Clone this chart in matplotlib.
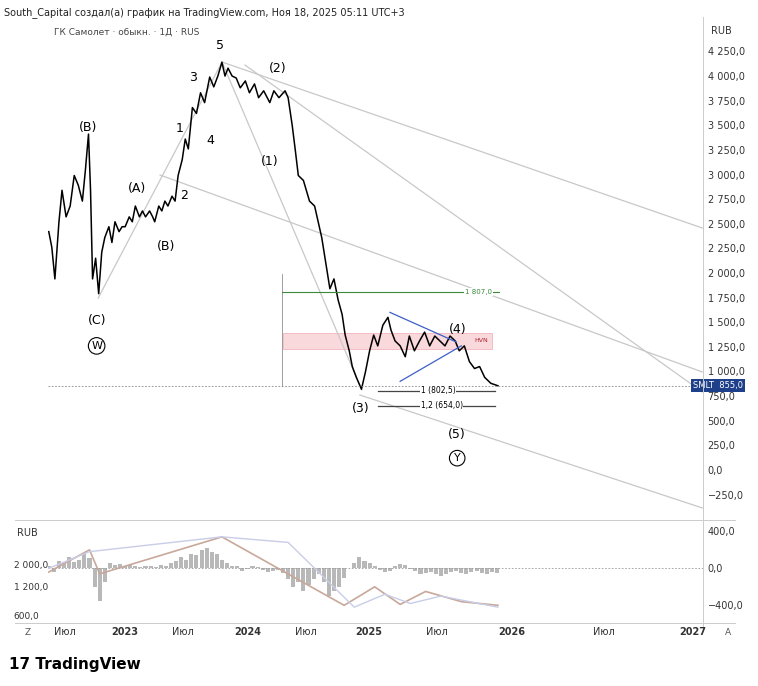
import numpy as np
import matplotlib
matplotlib.use("Agg")
from matplotlib import pyplot as plt
from matplotlib.patches import Rectangle

# months since Jan 2023, price in RUB
months = [-7.5, -7.2, -6.9, -6.5, -6.2, -5.8, -5.4, -5.0, -4.6, -4.2, -3.9, -3.6, -3.4, -3.2, -2.9, -2.6,
          -2.3, -2.0, -1.6, -1.3, -1.0, -0.6, -0.3, 0.0, 0.4, 0.7, 1.0, 1.4, 1.7, 2.0, 2.4, 2.7, 2.9,
          3.3, 3.6, 3.9, 4.2, 4.6, 4.9, 5.2, 5.6, 5.9, 6.2, 6.6, 7.0, 7.4, 7.8, 8.3, 8.7, 9.1, 9.5,
          9.8, 10.1, 10.5, 10.9, 11.3, 11.8, 12.2, 12.7, 13.1, 13.6, 14.2, 14.6, 15.1, 15.7, 16.0,
          16.4, 16.7, 17.0, 17.5, 18.1, 18.6, 19.3, 19.7, 20.1, 20.5, 20.9, 21.3, 21.6, 22.0, 22.3,
          22.7, 23.2, 23.6, 24.0, 24.4, 24.8, 25.3, 25.8, 26.1, 26.5, 27.0, 27.5, 27.9, 28.4, 28.9,
          29.4, 29.9, 30.4, 30.9, 31.4, 31.9, 32.4, 32.8, 33.3, 33.8, 34.3, 34.8, 35.3, 35.9, 36.6]
prices = [2420, 2260, 1940, 2520, 2840, 2570, 2680, 2990, 2890, 2730, 3050, 3410, 2840, 1940, 2150, 1790,
          2210, 2360, 2470, 2310, 2520, 2420, 2470, 2470, 2570, 2520, 2680, 2570, 2630, 2570, 2630, 2570, 2520,
          2680, 2630, 2730, 2680, 2780, 2730, 2990, 3150, 3360, 3260, 3680, 3620, 3830, 3730, 3990, 3890, 4000, 4140,
          4000, 4080, 4000, 3980, 3880, 3950, 3830, 3920, 3780, 3850, 3730, 3850, 3780, 3850, 3780,
          3500, 3250, 2990, 2940, 2730, 2680, 2360, 2100, 1840, 1940, 1730, 1580, 1370, 1210, 1050,
          940, 820, 1000, 1210, 1370, 1260, 1470, 1550, 1420, 1310, 1260, 1150, 1360, 1210, 1310,
          1400, 1260, 1360, 1310, 1260, 1360, 1310, 1210, 1260, 1100, 1030, 1050, 940, 880, 855]

osc_x = np.arange(-7.5, 37, 0.5)
osc_vals = [30, -40, 80, 60, 120, 70, 90, 150, 110, -200, -350, -150, 60, 40, 50, 30, 40, 20, 10, 30,
            20, 10, 40, 30, 60, 80, 120, 90, 160, 140, 200, 220, 180, 150, 90, 60, 30, 20, -30, -10,
            20, 10, -20, -40, -30, -20, -50, -120, -200, -150, -250, -180, -120, -60, -150, -300, -250,
            -200, -100, 0, 60, 120, 80, 60, 30, -20, -40, -30, 20, 50, 40, -10, -30, -60, -50, -40, -60,
            -80, -60, -40, -30, -50, -60, -40, -30, -50, -60, -40, -50]
line1_x = [-7.5, -3.5, -2.5, 9.5, 21.5, 24.5, 27.0, 29.5, 33.0, 36.6]
line1_y = [-40, 200, -60, 340, -400, -200, -390, -250, -360, -400]
line2_x = [-7.5, -3.5, 9.5, 16.0, 22.5, 25.5, 28.0, 31.0, 36.6]
line2_y = [0, 180, 340, 280, -420, -280, -380, -300, -420]

wave_labels = [("5", 9.3, 4315), ("3", 6.7, 3990), ("1", 5.3, 3470), ("4", 8.4, 3350), ("2", 5.8, 2790),
               ("(2)", 15.0, 4080), ("(1)", 14.2, 3130), ("(B)", -3.6, 3480), ("(A)", 1.2, 2860),
               ("(B)", 4.0, 2270), ("(C)", -2.8, 1520), ("(3)", 23.1, 620), ("(4)", 32.6, 1430),
               ("(5)", 32.6, 365)]
circ_labels = [("W", -2.8, 1260), ("Y", 32.6, 120)]

x0, px_m, y0, px_p = 125, 10.2, 470, 0.0985


def pt(x, y):
    return ((x - x0) / px_m, (y0 - y) / px_p)


channels = [[(222, 62), (703, 228)], [(98, 298), (222, 62)], [(160, 175), (703, 372)],
            [(245, 65), (703, 392)], [(222, 62), (362, 390)], [(360, 395), (703, 508)]]

fig = plt.figure(figsize=(7.58, 6.86), dpi=100)
ax = fig.add_axes([0.063, 0.245, 0.864, 0.726])
ax2 = fig.add_axes([0.063, 0.096, 0.864, 0.143])
xlim = (-7.6, 56.7)
for a in (ax, ax2):
    a.set_xlim(*xlim)
    a.yaxis.tick_right()
    a.tick_params(length=0, labelsize=7, colors="#333333")
    for s in a.spines.values():
        s.set_visible(False)
    a.set_xticks([])
ax.set_ylim(-487, 4570)
ticks = np.arange(-250, 4251, 250)
ax.set_yticks(ticks)
ax.set_yticklabels([f"{v:,.1f}".replace(",", " ").replace(".", ",").replace("-", "−") for v in ticks])

for seg in channels:
    (ax_, ay_), (bx_, by_) = pt(*seg[0]), pt(*seg[1])
    ax.plot([ax_, bx_], [ay_, by_], color="#c8c8c8", lw=0.9)

ax.plot(months, prices, color="black", lw=1.1)
ax.axhline(855, color="#888888", lw=0.6, ls=(0, (2, 2)))
ax.text(0.985, 855, "SMLT  855,0", transform=ax.get_yaxis_transform(), fontsize=6, color="white",
        va="center", ha="left", bbox=dict(boxstyle="square,pad=0.25", fc="#1e3f8a", ec="none"))

# green level, HVN box, triangle
ax.plot([15.4, 36.7], [1807, 1807], color="#3a8a3a", lw=0.8)
ax.text(36.0, 1807, "1 807,0", color="#3a8a3a", fontsize=5, va="center", ha="right",
        bbox=dict(fc="white", ec="none", pad=0.5))
ax.add_patch(Rectangle((15.5, 1230), 20.5, 160, fc="#f7c9cc", ec="#f0a0a8", alpha=0.7, lw=0.6))
ax.text(35.0, 1310, "HVN", fontsize=4.5, color="#b02030", ha="center", va="center")
ax.plot([26.0, 32.5], [1600, 1300], color="#3c5fc8", lw=0.9)
ax.plot([27.0, 33.0], [900, 1260], color="#3c5fc8", lw=0.9)
ax.plot([15.4, 15.4], [850, 1990], color="#777777", lw=0.5)
ax.plot([24.8, 36.3], [802.5, 802.5], color="#444444", lw=0.9)
ax.plot([24.8, 36.3], [654, 654], color="#444444", lw=0.9)
ax.text(29.0, 802.5, "1 (802,5)", fontsize=5.5, va="center", bbox=dict(fc="white", ec="none", pad=0.5))
ax.text(29.0, 654, "1,2 (654,0)", fontsize=5.5, va="center", bbox=dict(fc="white", ec="none", pad=0.5))

for t, x, y in wave_labels:
    ax.text(x, y, t, fontsize=9, ha="center", va="center")
for t, x, y in circ_labels:
    ax.text(x, y, t, fontsize=8, ha="center", va="center",
            bbox=dict(boxstyle="circle,pad=0.25", fc="white", ec="black", lw=0.8))

ax.text(0.01, 0.985, "ГК Самолет · обыкн. · 1Д · RUS", transform=ax.transAxes, fontsize=6.5,
        color="#444444", va="top")
fig.text(0.938, 0.955, "RUB", fontsize=7, color="#333333", va="center")

# oscillator panel
ax2.set_ylim(-560, 500)
ax2.set_yticks([400, 0, -400])
ax2.set_yticklabels(["400,0", "0,0", "−400,0"])
ax2.bar(osc_x[:len(osc_vals)], osc_vals, width=0.4, color="#b8b8b8")
ax2.axhline(0, color="#999999", lw=0.6, ls=(0, (2, 2)))
ax2.plot(line1_x, line1_y, color="#c8a89a", lw=1.2)
ax2.plot(line2_x, line2_y, color="#c8cde8", lw=1.0)
fig.text(0.022, 0.218, "RUB", fontsize=7, color="#333333")
for t, yf in [("2 000,0", 0.172), ("1 200,0", 0.140), ("600,0", 0.097)]:
    fig.text(0.018, yf, t, fontsize=6.5, color="#333333")

# frame lines
fig.add_artist(plt.Line2D([0.927, 0.927], [0.08, 0.975], color="#cccccc", lw=0.7))
fig.add_artist(plt.Line2D([0.02, 0.97], [0.242, 0.242], color="#cccccc", lw=0.7))
fig.add_artist(plt.Line2D([0.02, 0.97], [0.092, 0.092], color="#cccccc", lw=0.7))

# time axis
xt = [(-5.9, "Июл"), (0, "2023"), (5.7, "Июл"), (12, "2024"), (17.7, "Июл"), (23.9, "2025"),
      (30.6, "Июл"), (38, "2026"), (47, "Июл"), (55.7, "2027")]
for m, t in xt:
    xf = 0.063 + 0.864 * (m - xlim[0]) / (xlim[1] - xlim[0])
    fig.text(xf, 0.078, t, fontsize=7, color="#333333", ha="center", va="center",
             fontweight="bold" if t.isdigit() else "normal")
fig.text(0.037, 0.078, "Z", fontsize=6.5, color="#555555", ha="center", va="center")
fig.text(0.96, 0.078, "A", fontsize=6.5, color="#555555", ha="center", va="center")

fig.text(0.005, 0.99, "South_Capital создал(а) график на TradingView.com, Ноя 18, 2025 05:11 UTC+3",
         fontsize=7, va="top", color="#222222")
fig.text(0.012, 0.032, "17 TradingView", fontsize=11, fontweight="bold", va="center")

fig.savefig("out.png", dpi=100)
